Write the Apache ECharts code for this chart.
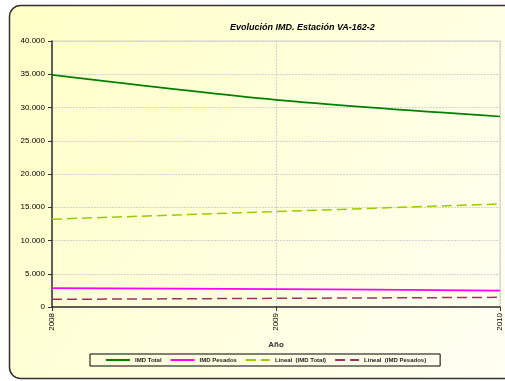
<!DOCTYPE html>
<html lang="es">
<head>
  <meta charset="utf-8">
  <title>Evolución IMD</title>
  <script src="https://cdn.jsdelivr.net/npm/echarts@6/dist/echarts.min.js"></script>
  <style>
    html, body { margin: 0; padding: 0; background: #fff; }
    #chart { width: 505px; height: 381px; }
  </style>
</head>
<body>
  <div id="chart"></div>
  <script>
    // datos
    var years = ['2008', '2009', '2010'];
    var imdTotal = [34900, 31150, 28650];
    var imdPesados = [2850, 2700, 2450];
    var linealTotal = [13200, 14350, 15500];
    var linealPesados = [1150, 1300, 1450];

    var chart = echarts.init(document.getElementById('chart'));
    var fontFam = '"Liberation Sans", Arial, sans-serif';

    var option = {
      animation: false,
      textStyle: { fontFamily: fontFam },
      // marco redondeado con degradado amarillo
      graphic: [{
        type: 'rect',
        z: -10,
        shape: { x: 9.5, y: 5.5, width: 520, height: 373, r: 11 },
        style: {
          fill: new echarts.graphic.LinearGradient(0, 0, 1, 1, [
            { offset: 0, color: '#ffffc6' },
            { offset: 1, color: '#fffff4' }
          ]),
          stroke: '#333',
          lineWidth: 1.5
        }
      }],
      title: {
        text: 'Evolución IMD. Estación VA-162-2',
        left: 225,
        top: 18,
        textStyle: { fontSize: 9, fontStyle: 'italic', fontWeight: 'bold', color: '#000', fontFamily: fontFam }
      },
      grid: {
        left: 52, right: 5, top: 41, bottom: 74,
        show: true, borderColor: '#cfcfcf', borderWidth: 1, backgroundColor: 'transparent'
      },
      legend: {
        left: 90, top: 354,
        padding: [3, 14, 3, 15],
        borderColor: '#000', borderWidth: 1,
        itemWidth: 24, itemHeight: 6, itemGap: 8,
        itemStyle: { opacity: 0 },
        textStyle: { fontSize: 6, fontWeight: 'bold', color: '#222', fontFamily: fontFam },
        data: ['IMD Total', 'IMD Pesados', 'Lineal  (IMD Total)', 'Lineal  (IMD Pesados)']
      },
      xAxis: {
        type: 'category',
        data: years,
        boundaryGap: false,
        name: 'Año',
        nameLocation: 'middle',
        nameGap: 34,
        nameTextStyle: { fontSize: 8, fontWeight: 'bold', color: '#333' },
        axisLine: { lineStyle: { color: '#333', width: 1.5 } },
        axisTick: { show: true, length: 4, lineStyle: { color: '#333' } },
        axisLabel: { rotate: 90, fontSize: 8, color: '#000', margin: 6 },
        splitLine: { show: true, lineStyle: { color: '#d2d2d2', type: [2, 1] } }
      },
      yAxis: {
        type: 'value',
        min: 0, max: 40000, interval: 5000,
        axisLine: { show: true, lineStyle: { color: '#333', width: 1.5 } },
        axisTick: { show: true, length: 4, lineStyle: { color: '#333' } },
        axisLabel: {
          fontSize: 8, color: '#000', margin: 7,
          formatter: function (v) {
            return v === 0 ? '0' : v.toString().replace(/\B(?=(\d{3})+(?!\d))/g, '.');
          }
        },
        splitLine: { lineStyle: { color: '#d2d2d2', type: [2, 1] } }
      },
      series: [
        {
          name: 'IMD Total', type: 'line', data: imdTotal, smooth: 0.3,
          symbol: 'none', lineStyle: { color: '#008000', width: 1.6 }, itemStyle: { color: '#008000' }
        },
        {
          name: 'IMD Pesados', type: 'line', data: imdPesados, smooth: 0.3,
          symbol: 'none', lineStyle: { color: '#ff00ff', width: 1.8 }, itemStyle: { color: '#ff00ff' }
        },
        {
          name: 'Lineal  (IMD Total)', type: 'line', data: linealTotal,
          symbol: 'none', lineStyle: { color: '#99cc00', width: 1.5, type: [10, 5] }, itemStyle: { color: '#99cc00' }
        },
        {
          name: 'Lineal  (IMD Pesados)', type: 'line', data: linealPesados,
          symbol: 'none', lineStyle: { color: '#993366', width: 1.5, type: [10, 5] }, itemStyle: { color: '#993366' }
        }
      ]
    };

    chart.setOption(option);
  </script>
</body>
</html>
